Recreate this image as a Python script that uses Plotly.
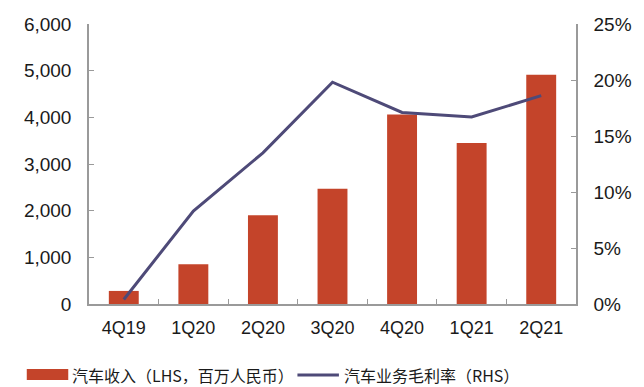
import plotly.graph_objects as go

# Quarterly auto revenue (RMB mn, left axis) and auto gross margin (right axis)
quarters = ["4Q19", "1Q20", "2Q20", "3Q20", "4Q20", "1Q21", "2Q21"]
auto_revenue = [280, 850, 1900, 2470, 4060, 3450, 4910]
auto_gross_margin = [0.004, 0.083, 0.135, 0.198, 0.171, 0.167, 0.186]

bar_color = "#C4442A"
line_color = "#4E4A78"
axis_color = "#9A9A9A"
font_family = "Liberation Sans, Arial, sans-serif"
cjk_family = "Noto Sans CJK SC, sans-serif"

fig = go.Figure()
fig.add_trace(go.Bar(
    x=quarters, y=auto_revenue, width=0.43,
    marker=dict(color=bar_color, line=dict(width=0)),
    name="汽车收入（LHS，百万人民币）", yaxis="y",
))
fig.add_trace(go.Scatter(
    x=quarters, y=auto_gross_margin, mode="lines",
    line=dict(color=line_color, width=3),
    name="汽车业务毛利率（RHS）", yaxis="y2",
))

common_axis = dict(
    showline=True, linecolor=axis_color, linewidth=1.5,
    ticks="inside", ticklen=5, tickcolor=axis_color, tickwidth=1.2,
    showgrid=False, zeroline=False,
    tickfont=dict(family=font_family, size=19, color="#1a1a1a"),
)

fig.update_layout(
    width=644, height=387,
    margin=dict(l=89, r=62, t=24, b=83),
    paper_bgcolor="white", plot_bgcolor="white",
    showlegend=False,
    xaxis=dict(
        **common_axis, type="category", tickson="boundaries",
        ticklabelstandoff=7,
    ),
    yaxis=dict(
        **common_axis, range=[0, 6000], dtick=1000, tickformat=",",
        ticklabelstandoff=12,
    ),
    yaxis2=dict(
        **common_axis, range=[0, 0.25], dtick=0.05, tickformat=".0%",
        overlaying="y", side="right", ticklabelstandoff=12,
    ),
)
fig.update_xaxes(tickfont=dict(size=18))

# Legend drawn below the plot area
fig.add_shape(type="rect", xref="paper", yref="paper",
              x0=(26 - 89) / 493, x1=(68 - 89) / 493,
              y0=-(380 - 304) / 280, y1=-(369 - 304) / 280,
              fillcolor=bar_color, line=dict(width=0))
fig.add_annotation(xref="paper", yref="paper",
                   x=(70 - 89) / 493, y=-(375 - 304) / 280,
                   xanchor="left", yanchor="middle", showarrow=False,
                   text="汽车收入（LHS，百万人民币）",
                   font=dict(family=cjk_family, size=16, color="#1a1a1a"))
fig.add_shape(type="line", xref="paper", yref="paper",
              x0=(300 - 89) / 493, x1=(342 - 89) / 493,
              y0=-(375 - 304) / 280, y1=-(375 - 304) / 280,
              line=dict(color=line_color, width=3))
fig.add_annotation(xref="paper", yref="paper",
                   x=(345 - 89) / 493, y=-(375 - 304) / 280,
                   xanchor="left", yanchor="middle", showarrow=False,
                   text="汽车业务毛利率（RHS）",
                   font=dict(family=cjk_family, size=16, color="#1a1a1a"))

fig.write_html("out.html")
